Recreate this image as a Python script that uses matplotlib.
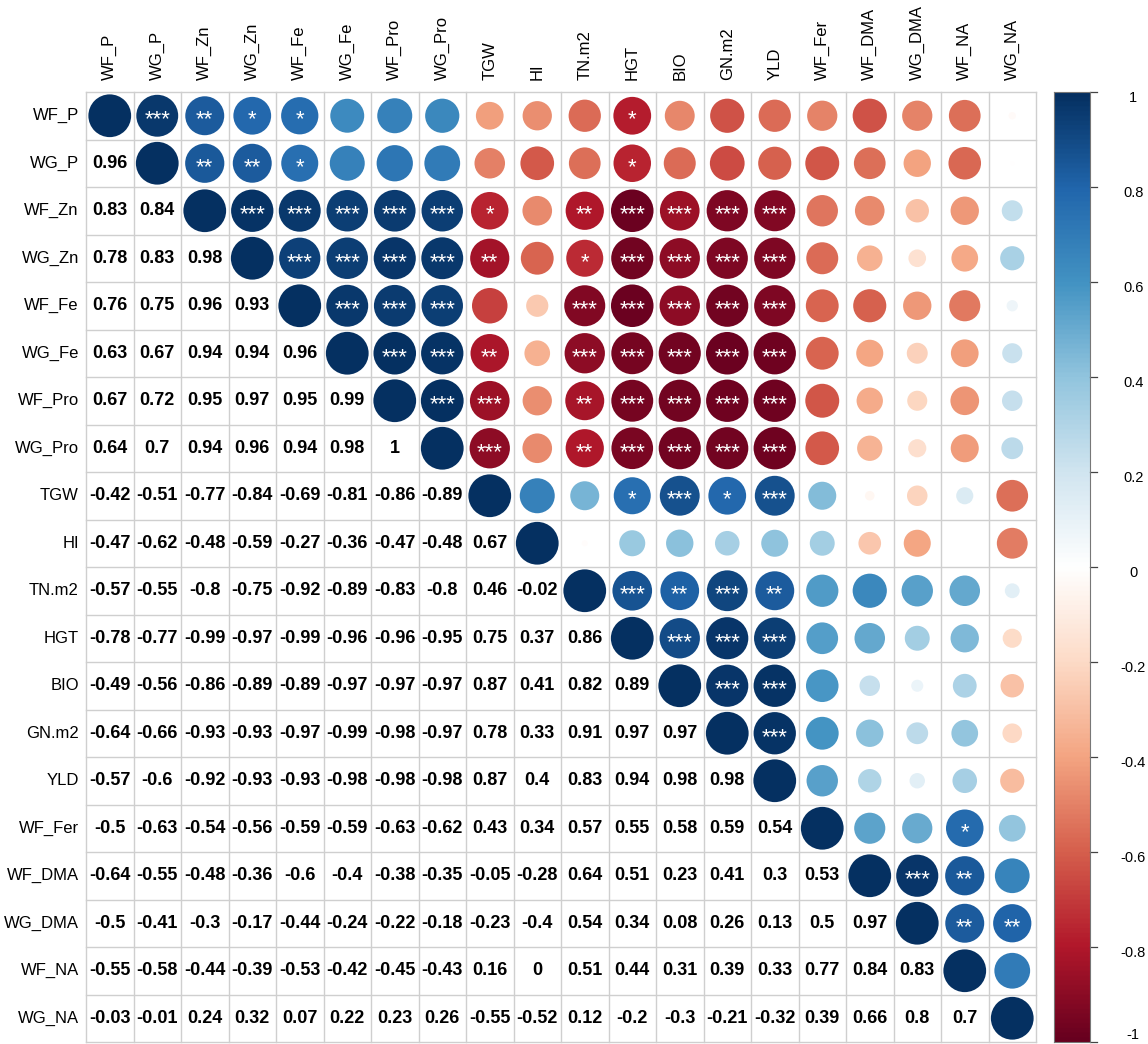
import numpy as np
import matplotlib
matplotlib.use("Agg")
import matplotlib.pyplot as plt
from matplotlib.colors import LinearSegmentedColormap, Normalize
from matplotlib.patches import Circle

plt.rcParams['font.family'] = ['Liberation Sans', 'DejaVu Sans']

traits = ["WF_P", "WG_P", "WF_Zn", "WG_Zn", "WF_Fe", "WG_Fe", "WF_Pro", "WG_Pro",
          "TGW", "HI", "TN.m2", "HGT", "BIO", "GN.m2", "YLD", "WF_Fer",
          "WF_DMA", "WG_DMA", "WF_NA", "WG_NA"]

# Lower triangle of the correlation matrix, row by row (columns 0..i-1)
r_WG_P   = [0.96]
r_WF_Zn  = [0.83, 0.84]
r_WG_Zn  = [0.78, 0.83, 0.98]
r_WF_Fe  = [0.76, 0.75, 0.96, 0.93]
r_WG_Fe  = [0.63, 0.67, 0.94, 0.94, 0.96]
r_WF_Pro = [0.67, 0.72, 0.95, 0.97, 0.95, 0.99]
r_WG_Pro = [0.64, 0.70, 0.94, 0.96, 0.94, 0.98, 1.00]
r_TGW    = [-0.42, -0.51, -0.77, -0.84, -0.69, -0.81, -0.86, -0.89]
r_HI     = [-0.47, -0.62, -0.48, -0.59, -0.27, -0.36, -0.47, -0.48, 0.67]
r_TN     = [-0.57, -0.55, -0.80, -0.75, -0.92, -0.89, -0.83, -0.80, 0.46, -0.02]
r_HGT    = [-0.78, -0.77, -0.99, -0.97, -0.99, -0.96, -0.96, -0.95, 0.75, 0.37, 0.86]
r_BIO    = [-0.49, -0.56, -0.86, -0.89, -0.89, -0.97, -0.97, -0.97, 0.87, 0.41, 0.82, 0.89]
r_GN     = [-0.64, -0.66, -0.93, -0.93, -0.97, -0.99, -0.98, -0.97, 0.78, 0.33, 0.91, 0.97, 0.97]
r_YLD    = [-0.57, -0.60, -0.92, -0.93, -0.93, -0.98, -0.98, -0.98, 0.87, 0.40, 0.83, 0.94, 0.98, 0.98]
r_WF_Fer = [-0.50, -0.63, -0.54, -0.56, -0.59, -0.59, -0.63, -0.62, 0.43, 0.34, 0.57, 0.55, 0.58,
            0.59, 0.54]
r_WF_DMA = [-0.64, -0.55, -0.48, -0.36, -0.60, -0.40, -0.38, -0.35, -0.05, -0.28, 0.64, 0.51, 0.23,
            0.41, 0.30, 0.53]
r_WG_DMA = [-0.50, -0.41, -0.30, -0.17, -0.44, -0.24, -0.22, -0.18, -0.23, -0.40, 0.54, 0.34, 0.08,
            0.26, 0.13, 0.50, 0.97]
r_WF_NA  = [-0.55, -0.58, -0.44, -0.39, -0.53, -0.42, -0.45, -0.43, 0.16, 0.00, 0.51, 0.44, 0.31,
            0.39, 0.33, 0.77, 0.84, 0.83]
r_WG_NA  = [-0.03, -0.01, 0.24, 0.32, 0.07, 0.22, 0.23, 0.26, -0.55, -0.52, 0.12, -0.20, -0.30,
            -0.21, -0.32, 0.39, 0.66, 0.80, 0.70]

lower_rows = [[], r_WG_P, r_WF_Zn, r_WG_Zn, r_WF_Fe, r_WG_Fe, r_WF_Pro, r_WG_Pro, r_TGW, r_HI,
              r_TN, r_HGT, r_BIO, r_GN, r_YLD, r_WF_Fer, r_WF_DMA, r_WG_DMA, r_WF_NA, r_WG_NA]

# Significance level (number of stars) for the upper triangle, row i, columns i+1..n-1
stars_upper = ["3211000000100000000",
               "221000000100000000",
               "33333102333300000",
               "3333201333300000",
               "333003333300000",
               "33203333300000",
               "3302333300000",
               "302333300000",
               "00131300000",
               "0000000000",
               "323200000",
               "33300000",
               "3300000",
               "300000",
               "00000",
               "0010",
               "320",
               "22",
               "0"]

n = len(traits)
corr = np.eye(n)
for i, row in enumerate(lower_rows):
    for j, v in enumerate(row):
        corr[i, j] = v
        corr[j, i] = v

stars = np.zeros((n, n), dtype=int)
for i, s in enumerate(stars_upper):
    for k, ch in enumerate(s):
        stars[i, i + 1 + k] = int(ch)

cmap = LinearSegmentedColormap.from_list(
    "RdBu_corr",
    ["#67001F", "#B2182B", "#D6604D", "#F4A582", "#FDDBC7", "#FFFFFF",
     "#D1E5F0", "#92C5DE", "#4393C3", "#2166AC", "#053061"], N=200)
norm = Normalize(-1, 1)

W, H = 1148, 1044
fig = plt.figure(figsize=(W / 100, H / 100), dpi=100)
gl, gr, gt, gb = 86, 1036, 92, 1042
ax = fig.add_axes([gl / W, (H - gb) / H, (gr - gl) / W, (gb - gt) / H])
ax.set_xlim(0, n)
ax.set_ylim(n, 0)
ax.set_aspect("auto")
ax.axis("off")

grid_col = "#cfcfcf"
for k in range(n + 1):
    ax.plot([k, k], [0, n], color=grid_col, lw=1.0, zorder=1, clip_on=False)
    ax.plot([0, n], [k, k], color=grid_col, lw=1.0, zorder=1, clip_on=False)

for i in range(n):
    for j in range(n):
        v = corr[i, j]
        cx, cy = j + 0.5, i + 0.5
        if j >= i:
            rad = 0.45 * np.sqrt(abs(v))
            ax.add_patch(Circle((cx, cy), rad, facecolor=cmap(norm(v)),
                                edgecolor="none", zorder=2))
            if stars[i, j] > 0:
                ax.text(cx, cy + 0.09, "*" * stars[i, j], color="white", fontsize=16,
                        ha="center", va="center", zorder=3)
        else:
            txt = f"{v:.2f}".rstrip("0").rstrip(".")
            if txt == "-0":
                txt = "0"
            ax.text(cx, cy, txt, color="black", fontsize=13, fontweight="bold",
                    ha="center", va="center", zorder=3)

for k, name in enumerate(traits):
    ax.text(-0.15, k + 0.5, name, ha="right", va="center", fontsize=12, color="black",
            clip_on=False)
    ax.text(k + 0.5, -0.25, name, ha="center", va="bottom", rotation=90, fontsize=12,
            color="black", clip_on=False)

# Colour legend
cl, cr = 1054, 1090
cax = fig.add_axes([cl / W, (H - gb) / H, (cr - cl) / W, (gb - gt) / H])
grad = np.linspace(-1, 1, 400).reshape(-1, 1)
cax.imshow(grad, aspect="auto", cmap=cmap, norm=norm, origin="lower",
           extent=[0, 1, -1, 1])
cax.set_xlim(0, 1)
cax.set_ylim(-1, 1)
cax.set_xticks([])
cax.set_yticks([])
for sp in cax.spines.values():
    sp.set_color("#777777")
    sp.set_linewidth(0.8)
ticks = np.round(np.arange(-1, 1.01, 0.2), 1)
for t in ticks:
    cax.plot([1.0, 1.2], [t, t], color="#444444", lw=0.9, clip_on=False)
    lab = f"{t:g}"
    if lab == "-0":
        lab = "0"
    ty = t - 0.012 if t > -0.99 else -0.985
    cax.text(2.2, ty, lab, ha="center", va="center", fontsize=10.5,
             color="black", clip_on=False)

fig.savefig("out.png", dpi=100, facecolor="white")
